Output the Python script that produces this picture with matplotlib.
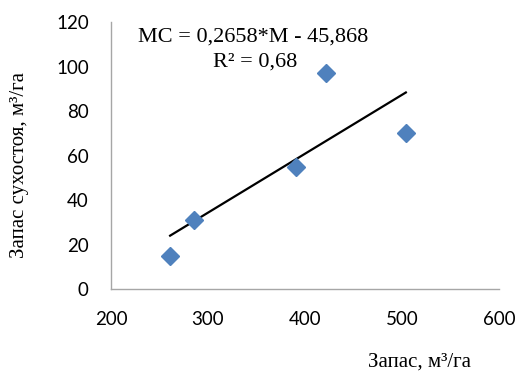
import numpy as np
import matplotlib
matplotlib.use('Agg')
import matplotlib.pyplot as plt

# data
zapas = [261, 286, 391, 422, 504]
suhostoi = [15, 31, 55, 97, 70]
x_ticks = [200, 300, 400, 500, 600]
y_ticks = [0, 20, 40, 60, 80, 100, 120]

fig = plt.figure(figsize=(5.16, 3.73), dpi=100)
ax = fig.add_axes([0.215, 0.225, 0.752, 0.716])

ax.plot(zapas, suhostoi, 'D', color='#4F81BD', ms=9.5, mec='#4F81BD', zorder=3)

# linear trend line over the range of the data
k, b = np.polyfit(zapas, suhostoi, 1)
xs = np.array([min(zapas), max(zapas)])
ax.plot(xs, k * xs + b, color='black', lw=1.6, zorder=2)

ax.set_xlim(200, 600)
ax.set_ylim(0, 120)
ax.set_xticks(x_ticks)
ax.set_yticks(y_ticks)
ax.tick_params(length=0, labelsize=13.5)
ax.tick_params(axis='x', pad=16)
ax.tick_params(axis='y', pad=16)
for lab in ax.get_xticklabels() + ax.get_yticklabels():
    lab.set_family('Lato')

for s in ['top', 'right']:
    ax.spines[s].set_visible(False)
for s in ['left', 'bottom']:
    ax.spines[s].set_color('#A6A6A6')
    ax.spines[s].set_linewidth(1.0)

serif = 'Liberation Serif'
fig.text(253 / 516, 1 - 37 / 373, 'MC = 0,2658*M - 45,868', ha='center', va='center',
         fontsize=16, family=serif)
fig.text(255 / 516, 1 - 62 / 373, 'R² = 0,68', ha='center', va='center',
         fontsize=16, family=serif)

fig.text(420 / 516, 1 - 362 / 373, 'Запас, м³/га', ha='center', va='center',
         fontsize=15, family=serif)
fig.text(20 / 516, 1 - 165 / 373, 'Запас сухостоя, м³/га', ha='center', va='center',
         rotation=90, fontsize=15, family=serif)

fig.savefig('out.png', dpi=100)
